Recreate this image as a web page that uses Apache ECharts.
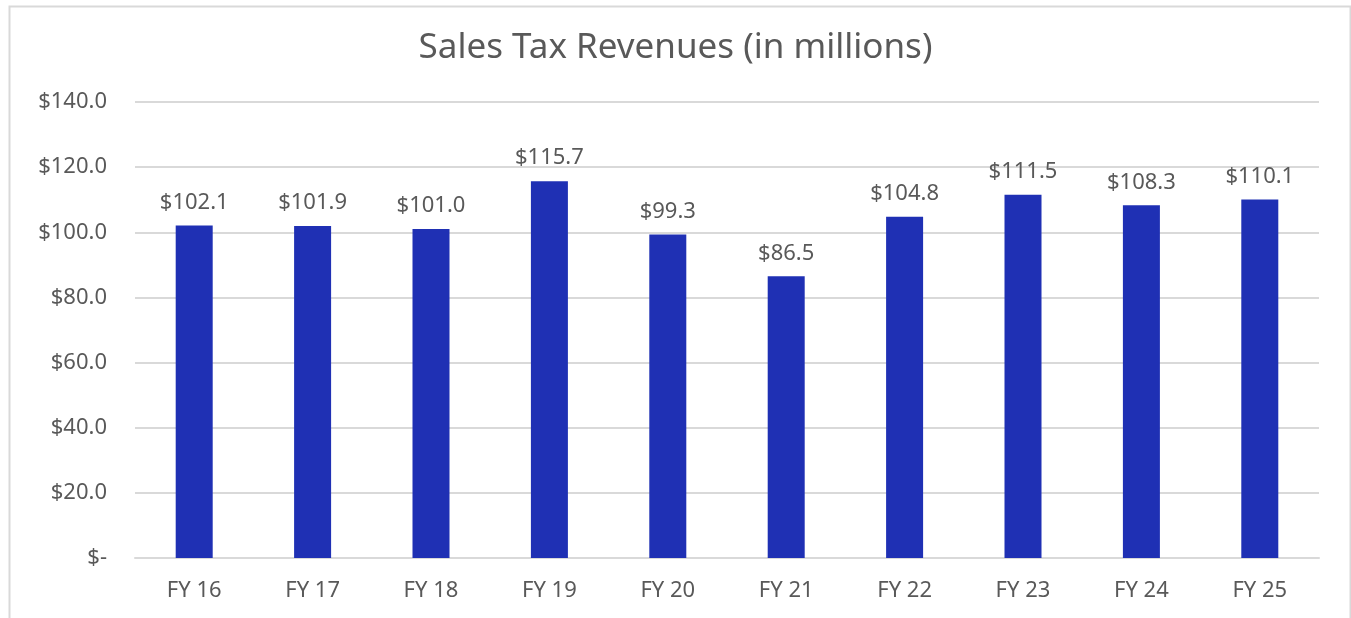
<!DOCTYPE html>
<html>
<head>
<meta charset="utf-8">
<script src="https://cdn.jsdelivr.net/npm/echarts@6/dist/echarts.min.js"></script>
<style>
  html, body { margin: 0; padding: 0; background: #fff; }
  #chart { width: 1351px; height: 618px; }
</style>
</head>
<body>
<div id="chart"></div>
<script>
// fiscal years and sales tax revenue (millions)
var categories = ['FY 16', 'FY 17', 'FY 18', 'FY 19', 'FY 20', 'FY 21', 'FY 22', 'FY 23', 'FY 24', 'FY 25'];
var revenues = [102.1, 101.9, 101.0, 115.7, 99.3, 86.5, 104.8, 111.5, 108.3, 110.1];
var yTicks = [0, 20, 40, 60, 80, 100, 120, 140];

var font = 'Noto Sans';
var gray = '#595959';

var myChart = echarts.init(document.getElementById('chart'));
myChart.setOption({
    backgroundColor: '#fff',
    animation: false,
    title: {
        text: 'Sales Tax Revenues (in millions)',
        left: 'center',
        top: 26,
        textStyle: {
            fontFamily: font,
            fontSize: 35,
            fontWeight: 'normal',
            color: gray
        }
    },
    graphic: [{ // outer frame
        type: 'rect',
        left: 7,
        top: 4,
        shape: { width: 1341, height: 640 },
        style: { fill: 'none', stroke: '#d9d9d9', lineWidth: 2 },
        silent: true
    }],
    grid: {
        left: 135,
        right: 32,
        top: 102,
        bottom: 60,
        containLabel: false
    },
    xAxis: {
        type: 'category',
        data: categories,
        axisTick: { show: false },
        axisLine: { lineStyle: { color: '#d9d9d9', width: 2 } },
        axisLabel: {
            color: gray,
            fontFamily: font,
            fontSize: 22,
            margin: 22
        }
    },
    yAxis: {
        type: 'value',
        min: yTicks[0],
        max: yTicks[yTicks.length - 1],
        interval: 20,
        axisLine: { show: false },
        axisTick: { show: false },
        splitLine: { lineStyle: { color: '#d9d9d9', width: 2 } },
        axisLabel: {
            color: gray,
            fontFamily: font,
            fontSize: 22,
            margin: 28,
            formatter: function (v) {
                return v === 0 ? '$-' : '$' + v.toFixed(1);
            }
        }
    },
    series: [{
        type: 'bar',
        data: revenues,
        barWidth: 37,
        itemStyle: { color: '#1F30B4' },
        label: {
            show: true,
            position: 'top',
            distance: 12,
            color: gray,
            fontFamily: font,
            fontSize: 22,
            formatter: function (p) {
                return '$' + p.value.toFixed(1);
            }
        }
    }]
});
</script>
</body>
</html>
